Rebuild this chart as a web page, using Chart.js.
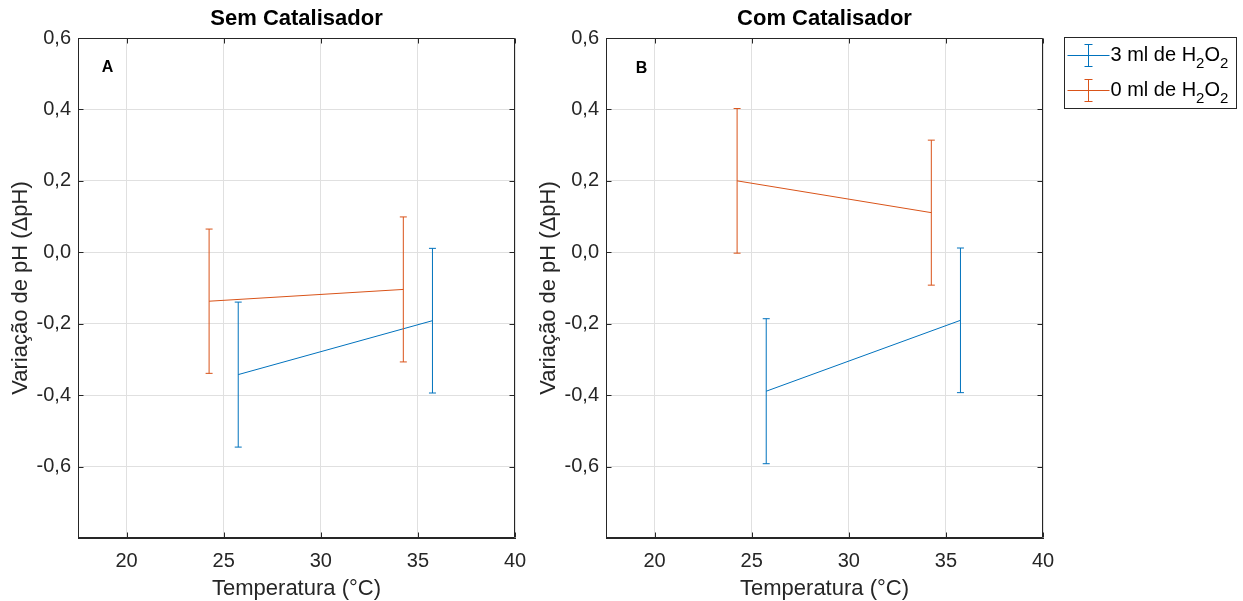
<!DOCTYPE html>
<html><head><meta charset="utf-8">
<script src="https://cdn.jsdelivr.net/npm/chart.js@4.4.1/dist/chart.umd.min.js"></script>
<style>
html,body{margin:0;padding:0;background:#fff;width:1243px;height:601px;overflow:hidden}
.c{position:absolute;top:0;height:601px}
#w1{left:0;width:560px}
#w2{left:528px;width:715px}
</style></head><body>
<div class="c" id="w1"><canvas id="c1"></canvas></div>
<div class="c" id="w2"><canvas id="c2"></canvas></div>
<script>
// ---- data ----
const xTicks = [20, 25, 30, 35, 40];
const yTicks = [-0.6, -0.4, -0.2, 0, 0.2, 0.4, 0.6];
const temps3 = [25.75, 35.75];          // 3 ml de H2O2
const temps0 = [24.25, 34.25];          // 0 ml de H2O2
const semMean3 = [-0.3425, -0.1915];
const semErr3  = [0.203, 0.2025];
const semMean0 = [-0.137, -0.104];
const semErr0  = [0.202, 0.203];
const comMean3 = [-0.389, -0.1905];
const comErr3  = [0.203, 0.2025];
const comMean0 = [0.2, 0.111];
const comErr0  = [0.2025, 0.203];
const seriesLabels = ['3 ml de H₂O₂', '0 ml de H₂O₂'];
const panelTitles = ['Sem Catalisador', 'Com Catalisador'];
const panelLetters = ['A', 'B'];

const BLUE = '#0072BD', ORANGE = '#D95319', AXIS = '#262626', GRID = '#e0e0e0';
const FF = '"Liberation Sans", Arial, Helvetica, sans-serif';

function linePts(xs, ms) { return xs.map((x, i) => ({x: x, y: ms[i]})); }
function errPts(xs, ms, es) {
  const out = [];
  xs.forEach((x, i) => {
    out.push({x: x, y: ms[i] - es[i]});
    out.push({x: x, y: ms[i] + es[i]});
    out.push({x: x, y: null});
  });
  return out;
}

const framePlugin = {
  id: 'frame',
  afterDraw(chart, args, opts) {
    const {ctx, chartArea: a} = chart;
    const xs = chart.scales.x, ys = chart.scales.y;
    ctx.save();
    ctx.strokeStyle = AXIS;
    ctx.lineWidth = 1;
    const L = Math.round(a.left) + 0.5, R = Math.round(a.right) - 0.5;
    const T = Math.round(a.top) + 0.5, B = Math.round(a.bottom) - 0.5;
    ctx.beginPath();
    ctx.rect(L, T, R - L, B - T);
    // inward ticks
    xTicks.forEach(v => {
      const px = Math.round(xs.getPixelForValue(v)) + 0.5;
      ctx.moveTo(px, B); ctx.lineTo(px, B - 5);
      ctx.moveTo(px, T); ctx.lineTo(px, T + 5);
    });
    yTicks.forEach(v => {
      const py = Math.round(ys.getPixelForValue(v)) + 0.5;
      ctx.moveTo(L, py); ctx.lineTo(L + 5, py);
      ctx.moveTo(R, py); ctx.lineTo(R - 5, py);
    });
    ctx.stroke();
    // panel letter
    ctx.fillStyle = '#000';
    ctx.font = 'bold 16px ' + FF;
    ctx.textAlign = 'center';
    ctx.textBaseline = 'middle';
    ctx.fillText(opts.letter, a.left + opts.lx, a.top + opts.ly);
    // legend
    if (opts.legend) {
      const bx = a.right + 21.5, by = 37.5, bw = 172, bh = 71;
      ctx.fillStyle = '#fff';
      ctx.fillRect(bx, by, bw, bh);
      ctx.strokeStyle = AXIS;
      ctx.strokeRect(bx, by, bw, bh);
      const rows = [{c: BLUE, y: 55}, {c: ORANGE, y: 90}];
      rows.forEach((r, i) => {
        const cy = r.y + 0.5;
        ctx.strokeStyle = r.c;
        ctx.beginPath();
        ctx.moveTo(bx + 3, cy); ctx.lineTo(bx + 45, cy);
        const ex = bx + 24;
        ctx.moveTo(ex, cy - 11); ctx.lineTo(ex, cy + 11);
        ctx.moveTo(ex - 4, cy - 11); ctx.lineTo(ex + 4, cy - 11);
        ctx.moveTo(ex - 4, cy + 11); ctx.lineTo(ex + 4, cy + 11);
        ctx.stroke();
        // text with subscripts
        let tx = bx + 46;
        ctx.fillStyle = '#000';
        ctx.textAlign = 'left';
        ctx.textBaseline = 'alphabetic';
        for (const ch of seriesLabels[i]) {
          if (ch === '₂') {
            ctx.font = '15px ' + FF;
            ctx.fillText('2', tx, cy + 12);
            tx += ctx.measureText('2').width;
          } else {
            ctx.font = '20px ' + FF;
            ctx.fillText(ch, tx, cy + 5);
            tx += ctx.measureText(ch).width;
          }
        }
      });
    }
    ctx.restore();
  }
};

function makeChart(id, idx, m3, e3, m0, e0, legend) {
  return new Chart(document.getElementById(id), {
    type: 'line',
    data: {
      datasets: [
        {data: linePts(temps0, m0), borderColor: ORANGE, borderWidth: 1, pointRadius: 0, fill: false},
        {data: errPts(temps0, m0, e0), borderColor: ORANGE, borderWidth: 1, spanGaps: false,
         pointStyle: 'line', pointRadius: 3.5, pointBorderColor: ORANGE, pointBorderWidth: 1, fill: false},
        {data: linePts(temps3, m3), borderColor: BLUE, borderWidth: 1, pointRadius: 0, fill: false},
        {data: errPts(temps3, m3, e3), borderColor: BLUE, borderWidth: 1, spanGaps: false,
         pointStyle: 'line', pointRadius: 3.5, pointBorderColor: BLUE, pointBorderWidth: 1, fill: false}
      ]
    },
    options: {
      responsive: true, maintainAspectRatio: false, animation: false, events: [],
      layout: {padding: {left: 0, right: legend ? 200 : 45, top: 0, bottom: 0}},
      plugins: {
        legend: {display: false}, tooltip: {enabled: false},
        title: {display: true, fullSize: false, text: panelTitles[idx], color: '#000',
                font: {family: FF, size: 22, weight: 'bold', lineHeight: 1},
                padding: {top: 8, bottom: 8}},
        frame: {letter: panelLetters[idx], lx: idx === 0 ? 29.5 : 35.5, ly: idx === 0 ? 29.5 : 31, legend: legend}
      },
      scales: {
        x: {
          type: 'linear', min: 17.5, max: 40,
          afterBuildTicks: s => { s.ticks = xTicks.map(v => ({value: v})); },
          afterFit: s => { s.height = 63; },
          ticks: {font: {family: FF, size: 20}, color: AXIS, padding: 11, maxRotation: 0, autoSkip: false,
                  callback: v => String(v)},
          grid: {color: GRID, drawTicks: false},
          border: {color: AXIS},
          title: {display: true, text: 'Temperatura (°C)', color: AXIS,
                  font: {family: FF, size: 22, lineHeight: 1}, padding: {top: 0, bottom: 1}}
        },
        y: {
          type: 'linear', min: -0.8, max: 0.6,
          afterBuildTicks: s => { s.ticks = yTicks.map(v => ({value: v})); },
          afterFit: s => { s.width = 78; },
          ticks: {font: {family: FF, size: 20}, color: AXIS, padding: 7, autoSkip: false,
                  callback: v => v.toFixed(1).replace('.', ',')},
          grid: {color: GRID, drawTicks: false},
          border: {color: AXIS},
          title: {display: true, text: 'Variação de pH (ΔpH)', color: AXIS,
                  font: {family: FF, size: 22, lineHeight: 1}, padding: {top: 10, bottom: 0}}
        }
      }
    },
    plugins: [framePlugin]
  });
}

makeChart('c1', 0, semMean3, semErr3, semMean0, semErr0, false);
makeChart('c2', 1, comMean3, comErr3, comMean0, comErr0, true);
</script>
</body></html>
